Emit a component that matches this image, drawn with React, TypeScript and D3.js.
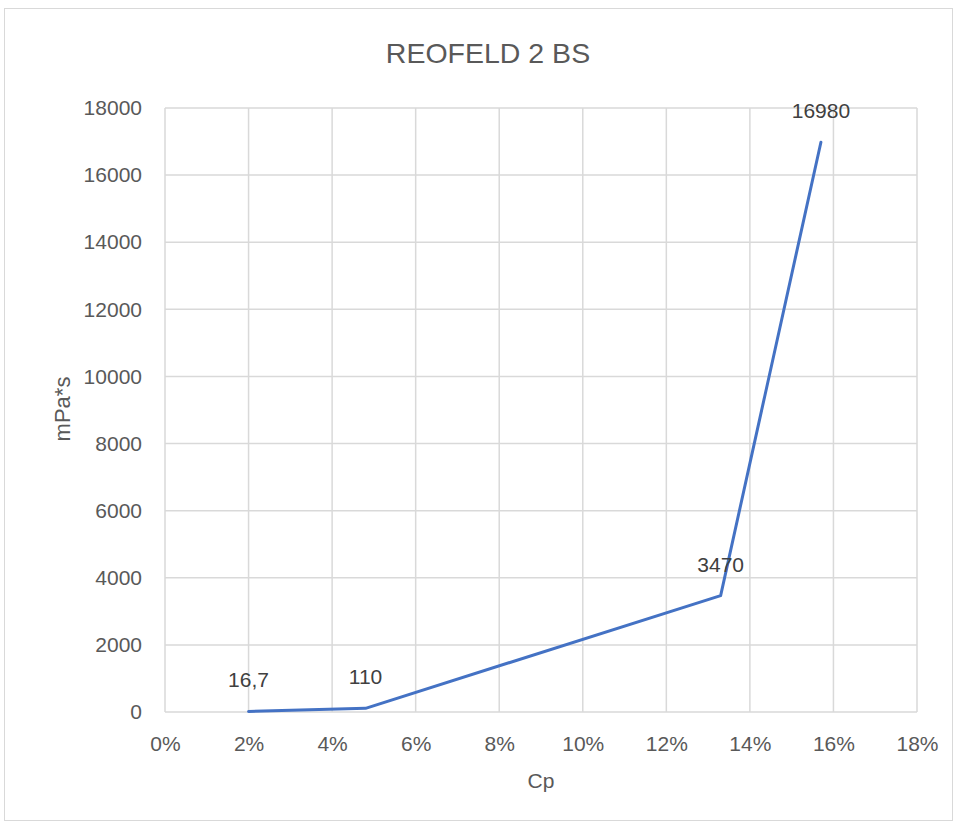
import React, { useEffect, useRef } from "react";
import * as d3 from "d3";

const cpValues = [0.02, 0.048, 0.133, 0.157];
const viscosity = [16.7, 110, 3470, 16980];
const pointLabels = ["16,7", "110", "3470", "16980"];
const xTicks = [0, 0.02, 0.04, 0.06, 0.08, 0.1, 0.12, 0.14, 0.16, 0.18];
const yTicks = [0, 2000, 4000, 6000, 8000, 10000, 12000, 14000, 16000, 18000];

const W = 956;
const H = 825;
const font = "'Liberation Sans', Arial, sans-serif";
const textColor = "#595959";
const gridColor = "#d9d9d9";

const App = () => {
  const ref = useRef<SVGSVGElement>(null);

  useEffect(() => {
    const svg = d3.select(ref.current);
    svg.selectAll("*").remove();

    const margin = { top: 108, right: 39, bottom: 113, left: 165 };
    const innerW = W - margin.left - margin.right;
    const innerH = H - margin.top - margin.bottom;

    const x = d3.scaleLinear().domain([0, 0.18]).range([0, innerW]);
    const y = d3.scaleLinear().domain([0, 18000]).range([innerH, 0]);

    svg
      .append("rect")
      .attr("x", 4.5)
      .attr("y", 8.5)
      .attr("width", 948)
      .attr("height", 812)
      .attr("fill", "white")
      .attr("stroke", gridColor);

    // title
    svg
      .append("text")
      .attr("x", 488)
      .attr("y", 63)
      .attr("text-anchor", "middle")
      .style("font-family", font)
      .style("font-size", "28.5px")
      .attr("fill", textColor)
      .text("REOFELD 2 BS");

    const g = svg.append("g").attr("transform", `translate(${margin.left},${margin.top})`);

    // grid
    g.selectAll(".hgrid")
      .data(yTicks)
      .enter()
      .append("line")
      .attr("x1", 0)
      .attr("x2", innerW)
      .attr("y1", (d) => y(d))
      .attr("y2", (d) => y(d))
      .attr("stroke", gridColor)
      .attr("stroke-width", 1.5);
    g.selectAll(".vgrid")
      .data(xTicks)
      .enter()
      .append("line")
      .attr("x1", (d) => x(d))
      .attr("x2", (d) => x(d))
      .attr("y1", 0)
      .attr("y2", innerH)
      .attr("stroke", gridColor)
      .attr("stroke-width", 1.5);

    // axes (labels only, Excel style)
    const yAxis = g.append("g").call(d3.axisLeft(y).tickValues(yTicks).tickSize(0).tickPadding(23).tickFormat(d3.format("d")));
    const xAxis = g
      .append("g")
      .attr("transform", `translate(0,${innerH})`)
      .call(d3.axisBottom(x).tickValues(xTicks).tickSize(0).tickPadding(24).tickFormat(d3.format(".0%")));
    [yAxis, xAxis].forEach((a) => {
      a.select(".domain").remove();
      a.selectAll("text").style("font-family", font).style("font-size", "21px").attr("fill", textColor);
    });

    // axis titles
    svg
      .append("text")
      .attr("x", 541)
      .attr("y", 788)
      .attr("text-anchor", "middle")
      .style("font-family", font)
      .style("font-size", "21px")
      .attr("fill", textColor)
      .text("Cp");
    svg
      .append("text")
      .attr("transform", "translate(70,409) rotate(-90)")
      .attr("text-anchor", "middle")
      .style("font-family", font)
      .style("font-size", "22px")
      .attr("fill", textColor)
      .text("mPa*s");

    const pts = cpValues.map((c, i) => [c, viscosity[i]] as [number, number]);
    const line = d3
      .line<[number, number]>()
      .x((d) => x(d[0]))
      .y((d) => y(d[1]));

    g.append("path")
      .datum(pts)
      .attr("d", line)
      .attr("fill", "none")
      .attr("stroke", "#4472C4")
      .attr("stroke-width", 3)
      .attr("stroke-linecap", "round")
      .attr("stroke-linejoin", "round");

    g.selectAll(".lbl")
      .data(pts)
      .enter()
      .append("text")
      .attr("x", (d) => x(d[0]))
      .attr("y", (d) => y(d[1]) - 24)
      .attr("text-anchor", "middle")
      .style("font-family", font)
      .style("font-size", "21px")
      .attr("fill", "#404040")
      .text((d, i) => pointLabels[i]);
  }, []);

  return (
    <div style={{ position: "absolute", left: 0, top: 0 }}>
      <svg ref={ref} width={W} height={H}></svg>
    </div>
  );
};

export default App;
